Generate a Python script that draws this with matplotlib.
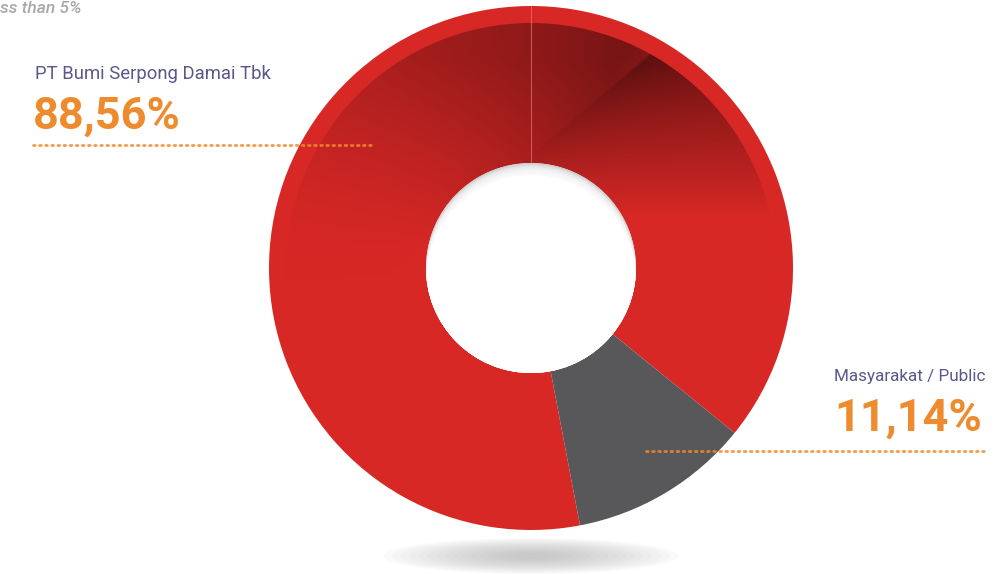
import numpy as np
import matplotlib
matplotlib.use("Agg")
import matplotlib.pyplot as plt
from matplotlib.patches import Wedge, Circle, Ellipse

plt.rcParams['font.family'] = ['Roboto', 'DejaVu Sans']

# data
names = ["PT Bumi Serpong Damai Tbk", "Masyarakat / Public"]
shares = [88.56, 11.14]
share_labels = ["88,56%", "11,14%"]
colors = ["#D82826", "#58585A"]
footnote = "ss than 5%"

W, H = 1001, 574
fig = plt.figure(figsize=(W / 100, H / 100), dpi=100)
ax = fig.add_axes([0, 0, 1, 1])

cx, cy = 531, H - 268
R = 262
r_hole = 105
rim = 17

# soft shadow under the donut
for i in range(16):
    f = 1 - i / 16
    ax.add_patch(Ellipse((cx, H - 556), 280 * f + 15, 32 * f + 4,
                         color="#a8a8a8", alpha=0.05, lw=0, zorder=0))

ax.pie(shares, colors=colors, startangle=-39, counterclock=True,
       center=(cx, cy), radius=R, frame=True,
       wedgeprops=dict(width=R - r_hole, linewidth=0))
ax.set_xlim(0, W)
ax.set_ylim(0, H)
ax.set_aspect("equal")
ax.axis("off")

# dark shading on the upper part of the ring (worked in image pixels, y down)
n = 600
px = np.linspace(cx - R, cx + R, n)
py = np.linspace(H - (cy + R), H - (cy - R), n)  # first row = top
PX, PY = np.meshgrid(px, py)
icy = H - cy
yn = (icy - PY) / R
theta = np.degrees(np.arctan2(icy - PY, PX - cx))
theta = np.where(theta < -90, theta + 360, theta)

p1 = np.array([537.0, 150.0])
p2 = np.array([647.0, 57.0])
L = np.linalg.norm(p2 - p1)
d = (p2 - p1) / L
nrm = np.array([-d[1], d[0]])  # points to the lower right
u = (PX - p1[0]) * nrm[0] + (PY - p1[1]) * nrm[1]

right = np.clip((yn - 0.2) / 0.58, 0, 1) ** 0.9 * (0.75 + 0.25 * np.exp(-np.clip(u, 0, None) / 60))
A = np.interp(theta, [-90, 20, 67, 80, 90, 110, 140, 170, 190, 270],
              [0, 0, 0.8, 0.68, 0.6, 0.48, 0.3, 0.1, 0, 0])
left = A * np.clip((yn + 0.1) / 0.9, 0, 1) ** 0.8
edge = np.clip(u / 3 + 0.5, 0, 1)
dark = np.clip(edge * right + (1 - edge) * left, 0, 1)

img = np.zeros((n, n, 4))
img[..., 0] = 94 / 255
img[..., 1] = 16 / 255
img[..., 2] = 16 / 255
img[..., 3] = dark
ring = Wedge((cx, cy), R - rim, 0, 360, width=R - rim - r_hole, transform=ax.transData)
im = ax.imshow(img, extent=(cx - R, cx + R, cy - R, cy + R), origin="upper",
               zorder=3, interpolation="bilinear")
im.set_clip_path(ring)
ax.set_xlim(0, W)
ax.set_ylim(0, H)

# thin seam at the top
ax.plot([cx, cx], [cy + r_hole, cy + R], color="#e88080", lw=0.8, alpha=0.6, zorder=4)

# hole with inner shadow
hole = Circle((cx, cy), r_hole, color="#cccccc", lw=0, zorder=5)
ax.add_patch(hole)
for k in range(11):
    s = 11 - k
    c = Circle((cx, cy - s), r_hole, color="white", lw=0, alpha=0.22, zorder=6)
    ax.add_patch(c)
    c.set_clip_path(hole)
inner = Circle((cx, cy - 12), r_hole, color="white", lw=0, zorder=7)
ax.add_patch(inner)
inner.set_clip_path(hole)

# labels
lab_col = "#5a578c"
org = "#EE8B2F"
ax.text(35, H - 79, names[0], fontsize=13.3, color=lab_col, ha="left", va="baseline")
ax.text(33, H - 129, share_labels[0], fontsize=32.5, fontweight="bold", color=org,
        ha="left", va="baseline")
ax.plot([33, 375], [H - 145, H - 145], color=org, lw=2, ls=(0, (0.6, 1.6)),
        dash_capstyle="round", zorder=8, alpha=0.85)

ax.text(986, H - 381, names[1], fontsize=12.3, color=lab_col, ha="right", va="baseline")
ax.text(982, H - 431, share_labels[1], fontsize=32.5, fontweight="bold", color=org,
        ha="right", va="baseline")
ax.plot([646, 987], [H - 451, H - 451], color=org, lw=2, ls=(0, (0.6, 1.6)),
        dash_capstyle="round", zorder=8, alpha=0.85)

ax.text(0, H - 12.7, footnote, fontsize=12.5, color="#a8a8a8", style="italic",
        fontweight="medium", ha="left", va="baseline")

fig.savefig("out.png", dpi=100, facecolor="white")
